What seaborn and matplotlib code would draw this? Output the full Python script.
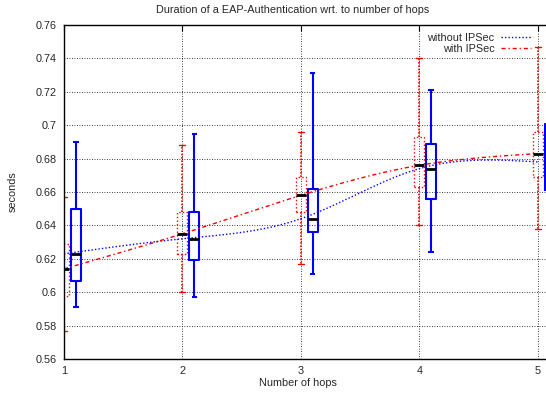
import numpy as np
import pandas as pd
import matplotlib
matplotlib.use("Agg")
import matplotlib.pyplot as plt
import seaborn as sns

# ==========================================
# DATA
# ==========================================
hops = [1, 2, 3, 4, 5]

# with IPSec (red)
ipsec_low = [0.577, 0.600, 0.617, 0.640, 0.638]
ipsec_q1 = [0.598, 0.623, 0.648, 0.663, 0.669]
ipsec_med = [0.614, 0.635, 0.658, 0.676, 0.683]
ipsec_q3 = [0.629, 0.648, 0.669, 0.693, 0.696]
ipsec_high = [0.657, 0.688, 0.696, 0.740, 0.747]

# without IPSec (blue)
plain_low = [0.591, 0.597, 0.611, 0.624, 0.630]
plain_q1 = [0.607, 0.619, 0.636, 0.656, 0.661]
plain_med = [0.623, 0.632, 0.644, 0.674, 0.678]
plain_q3 = [0.650, 0.648, 0.662, 0.689, 0.701]
plain_high = [0.690, 0.695, 0.731, 0.721, 0.725]

y_ticks = [0.56, 0.58, 0.60, 0.62, 0.64, 0.66, 0.68, 0.70, 0.72, 0.74, 0.76]
y_tick_labels = ["0.56", "0.58", "0.6", "0.62", "0.64", "0.66", "0.68",
                 "0.7", "0.72", "0.74", "0.76"]

FS = 7.8


def natural_spline(x, y, xs):
    # natural cubic spline, like gnuplot's "smooth csplines"
    x = np.asarray(x, float)
    y = np.asarray(y, float)
    n = len(x)
    h = np.diff(x)
    A = np.zeros((n, n))
    b = np.zeros(n)
    A[0, 0] = 1
    A[-1, -1] = 1
    for i in range(1, n - 1):
        A[i, i - 1] = h[i - 1]
        A[i, i] = 2 * (h[i - 1] + h[i])
        A[i, i + 1] = h[i]
        b[i] = 6 * ((y[i + 1] - y[i]) / h[i] - (y[i] - y[i - 1]) / h[i - 1])
    M = np.linalg.solve(A, b)
    out = np.empty_like(xs)
    for k, xv in enumerate(xs):
        i = min(np.searchsorted(x, xv) - 1, n - 2)
        i = max(i, 0)
        t1 = x[i + 1] - xv
        t0 = xv - x[i]
        out[k] = (M[i] * t1 ** 3 + M[i + 1] * t0 ** 3) / (6 * h[i]) \
            + (y[i] / h[i] - M[i] * h[i] / 6) * t1 \
            + (y[i + 1] / h[i] - M[i + 1] * h[i] / 6) * t0
    return out


def box_stats(low, q1, med, q3, high):
    return [dict(whislo=a, q1=b, med=c, q3=d, whishi=e, fliers=[])
            for a, b, c, d, e in zip(low, q1, med, q3, high)]


sns.set_style("white")
plt.rcParams['font.family'] = ['Liberation Sans', 'DejaVu Sans']
plt.rcParams['font.size'] = FS

fig = plt.figure(figsize=(5.46, 3.96), dpi=100)
ax = fig.add_axes([64 / 546, 37 / 396, 482 / 546, 334 / 396])

red = '#ff0000'
blue = '#0000ff'

# boxes with IPSec (red, dotted)
ax.bxp(box_stats(ipsec_low, ipsec_q1, ipsec_med, ipsec_q3, ipsec_high),
       positions=hops, widths=0.085, manage_ticks=False,
       boxprops=dict(color=red, linestyle=':', linewidth=1),
       whiskerprops=dict(color=red, linestyle=(0, (1, 1)), linewidth=1.2),
       capprops=dict(color=red, linewidth=1),
       capwidths=0.05,
       medianprops=dict(color='black', linewidth=2))

# boxes without IPSec (blue, solid)
ax.bxp(box_stats(plain_low, plain_q1, plain_med, plain_q3, plain_high),
       positions=[h + 0.1 for h in hops], widths=0.085, manage_ticks=False,
       boxprops=dict(color=blue, linewidth=1.5),
       whiskerprops=dict(color=blue, linewidth=1.5),
       capprops=dict(color=blue, linewidth=1.5, solid_capstyle='butt'),
       capwidths=0.045,
       medianprops=dict(color='black', linewidth=2))

# smoothed median curves
xs = np.linspace(1, 5, 300)
curves = pd.DataFrame({
    'hops': np.concatenate([xs, xs]),
    'seconds': np.concatenate([natural_spline(hops, plain_med, xs),
                               natural_spline(hops, ipsec_med, xs)]),
    'series': ['without IPSec'] * len(xs) + ['with IPSec'] * len(xs),
})
sns.lineplot(data=curves, x='hops', y='seconds', hue='series',
             style='series',
             palette={'without IPSec': blue, 'with IPSec': red},
             dashes={'without IPSec': (1, 1.5), 'with IPSec': (3, 2, 1, 2)},
             linewidth=1, ax=ax, legend=True)

ax.set_xlim(1, 5.07)
ax.set_ylim(0.56, 0.76)
ax.set_xticks(hops)
ax.set_xticklabels([str(h) for h in hops])
ax.set_yticks(y_ticks)
ax.set_yticklabels(y_tick_labels)
ax.grid(True, color='black', linestyle=(0, (1, 2)), linewidth=0.6)
ax.tick_params(direction='in', top=True, right=False, length=4,
               width=0.8, color='black', labelsize=FS, pad=5)
for side in ['left', 'bottom', 'top']:
    ax.spines[side].set_color('black')
    ax.spines[side].set_linewidth(1)
ax.spines['right'].set_visible(False)

ax.set_xlabel('')
ax.set_ylabel('')
fig.text(298 / 546, 1 - 383 / 396, 'Number of hops', ha='center', va='center',
         fontsize=FS)
fig.text(13 / 546, 1 - 192 / 396, 'seconds', ha='center', va='center',
         rotation=90, fontsize=FS)
fig.text(293 / 546, 1 - 10 / 396, 'Duration of a EAP-Authentication wrt. to number of hops',
         ha='center', va='center', fontsize=FS)

ax.legend(loc='upper right', bbox_to_anchor=(0.985, 1.0), frameon=False,
          markerfirst=False, handlelength=2.8, handletextpad=0.6,
          labelspacing=0.1, borderaxespad=0.3, fontsize=FS)

fig.savefig('out.png', dpi=100)
